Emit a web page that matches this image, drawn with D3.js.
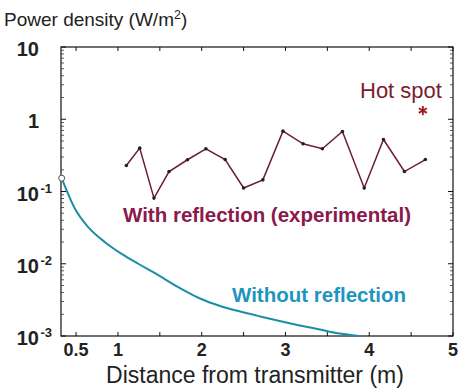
<!DOCTYPE html>
<html><head><meta charset="utf-8">
<script src="https://cdn.jsdelivr.net/npm/d3@7"></script>
<style>
html,body{margin:0;padding:0;background:#fff;}
svg{display:block;font-family:"Liberation Sans",Arial,Helvetica,sans-serif;}
</style></head>
<body><svg id="c" width="465" height="389"></svg>
<script>
// ---- data ----
const withDist  = [1.10,1.26,1.43,1.61,1.83,2.05,2.28,2.50,2.73,2.97,3.21,3.44,3.68,3.94,4.17,4.42,4.67];
const withPower = [0.229,0.398,0.081,0.189,0.275,0.390,0.277,0.112,0.145,0.684,0.457,0.390,0.676,0.112,0.525,0.189,0.277];
const withoutDist  = [0.328,0.487,0.645,0.845,1.044,1.242,1.442,1.74,1.98,2.22,2.46,2.70,2.93,3.17,3.41,3.65,3.87];
const withoutPower = [0.153,0.0577,0.0321,0.0199,0.0137,0.0100,0.00740,0.00460,0.00330,0.00260,0.00218,0.00186,0.00161,0.00140,0.00123,0.00108,0.00100];
const hotSpot = [4.64, 1.32];
const xTicks = [0.5,1,1.5,2,2.5,3,3.5,4,4.5,5];
const xTickLabels = ["0.5","1","","2","","3","","4","","5"];
const yTicks = [10,1,0.1,0.01,0.001];
const yTickBase = ["10","1","10","10","10"];
const yTickExp  = ["","","-1","-2","-3"];

const svg = d3.select("#c");
const x = d3.scaleLinear().domain([0.32,5]).range([61,453]);
const y = d3.scaleLog().domain([0.001,10]).range([336,47]);

const yMinor = [];
for (let e=-3;e<1;e++) for (let m=2;m<10;m++) yMinor.push(m*Math.pow(10,e));

const axisG = svg.append("g");
axisG.append("rect").attr("x",x.range()[0]).attr("y",y.range()[1])
  .attr("width",x.range()[1]-x.range()[0]).attr("height",y.range()[0]-y.range()[1])
  .attr("fill","none").attr("stroke","#111").attr("stroke-width",1.2);

xTicks.forEach(t=>{
  axisG.append("line").attr("x1",x(t)).attr("x2",x(t)).attr("y1",y.range()[0]).attr("y2",y.range()[0]-4).attr("stroke","#111");
  axisG.append("line").attr("x1",x(t)).attr("x2",x(t)).attr("y1",y.range()[1]).attr("y2",y.range()[1]+4).attr("stroke","#111");
});
yTicks.forEach(t=>{
  axisG.append("line").attr("x1",x.range()[0]).attr("x2",x.range()[0]+5).attr("y1",y(t)).attr("y2",y(t)).attr("stroke","#111");
  axisG.append("line").attr("x1",x.range()[1]).attr("x2",x.range()[1]-5).attr("y1",y(t)).attr("y2",y(t)).attr("stroke","#111");
});
yMinor.forEach(t=>{
  axisG.append("line").attr("x1",x.range()[0]).attr("x2",x.range()[0]+3).attr("y1",y(t)).attr("y2",y(t)).attr("stroke","#333").attr("stroke-width",0.8);
  axisG.append("line").attr("x1",x.range()[1]).attr("x2",x.range()[1]-3).attr("y1",y(t)).attr("y2",y(t)).attr("stroke","#333").attr("stroke-width",0.8);
});

xTicks.forEach((t,i)=>{
  if(!xTickLabels[i]) return;
  axisG.append("text").attr("x",x(t)).attr("y",y.range()[0]+20)
    .attr("text-anchor","middle").attr("font-size",18).attr("font-weight","bold").attr("fill","#222")
    .text(xTickLabels[i]);
});
yTicks.forEach((t,i)=>{
  axisG.append("text").attr("x",39).attr("y",y(t)+9).attr("font-size",20).attr("font-weight","bold")
    .attr("fill","#222").attr("text-anchor","end").text(yTickBase[i]);
  if (yTickExp[i]) {
    axisG.append("text").attr("x",40.5).attr("y",y(t)+1).attr("font-size",13).attr("font-weight","bold")
      .attr("fill","#222").text(yTickExp[i]);
  }
});

const lineGen = d3.line().x(d=>x(d[0])).y(d=>y(d[1])).curve(d3.curveMonotoneX);
const withoutData = withoutDist.map((d,i)=>[d,withoutPower[i]]);
svg.append("path").datum(withoutData).attr("d",lineGen)
  .attr("fill","none").attr("stroke","#1b8ea6").attr("stroke-width",2);
svg.append("circle").attr("cx",x(withoutDist[0])).attr("cy",y(withoutPower[0])).attr("r",3)
  .attr("fill","#fff").attr("stroke","#555").attr("stroke-width",1);

const withData = withDist.map((d,i)=>[d,withPower[i]]);
svg.append("path").datum(withData).attr("d",d3.line().x(d=>x(d[0])).y(d=>y(d[1])))
  .attr("fill","none").attr("stroke","#6e1c36").attr("stroke-width",1.5);
svg.selectAll("circle.pt").data(withData).enter().append("circle").attr("class","pt")
  .attr("cx",d=>x(d[0])).attr("cy",d=>y(d[1])).attr("r",1.8).attr("fill","#222");

svg.append("path").attr("d",d3.symbol().type(d3.symbolAsterisk).size(60)())
  .attr("transform",`translate(${x(hotSpot[0])},${y(hotSpot[1])})`)
  .attr("fill","none").attr("stroke","#a01c24").attr("stroke-width",1.8);

svg.append("text").attr("x",360).attr("y",98).attr("font-size",22).attr("fill","#7a1e2e").text("Hot spot");
svg.append("text").attr("x",123).attr("y",222).attr("font-size",20.5).attr("font-weight","bold").attr("fill","#8a1a4c").text("With reflection (experimental)");
svg.append("text").attr("x",232).attr("y",302).attr("font-size",20.5).attr("font-weight","bold").attr("fill","#1e95bf").text("Without reflection");

const tt = svg.append("text").attr("x",4).attr("y",26).attr("font-size",19).attr("fill","#222");
tt.append("tspan").text("Power density (W/m");
tt.append("tspan").attr("dy",-7).attr("font-size",12.5).text("2");
tt.append("tspan").attr("dy",7).text(")");

svg.append("text").attr("x",255).attr("y",383).attr("text-anchor","middle").attr("font-size",23).attr("fill","#222")
  .text("Distance from transmitter (m)");
</script></body></html>
